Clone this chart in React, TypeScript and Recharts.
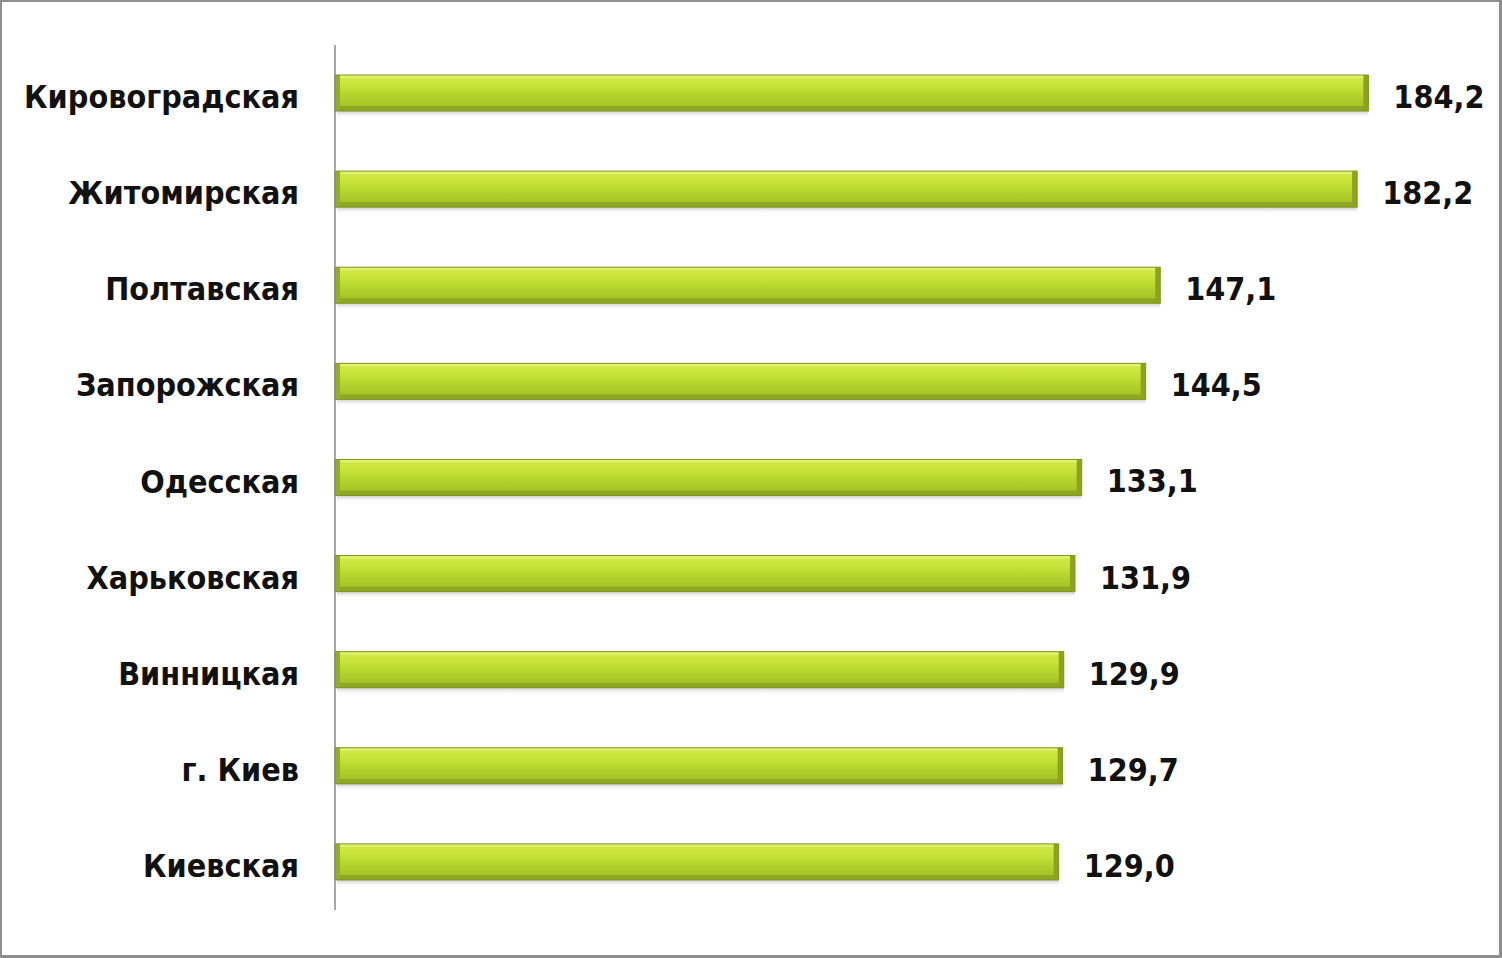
import { Bar, BarChart, LabelList, XAxis, YAxis } from "recharts";

const regions = [
  "Кировоградская",
  "Житомирская",
  "Полтавская",
  "Запорожская",
  "Одесская",
  "Харьковская",
  "Винницкая",
  "г. Киев",
  "Киевская",
];
const values = [184.2, 182.2, 147.1, 144.5, 133.1, 131.9, 129.9, 129.7, 129.0];

const data = regions.map((name, i) => ({ name, value: values[i] }));

const font = "'DejaVu Sans Condensed', 'DejaVu Sans', sans-serif";

function GlossyBar(props: any) {
  const { x, y, width, height } = props;
  if (!width || width <= 0) return null;
  return (
    <g>
      <rect x={x + 2} y={y + height} width={width - 2} height={7} fill="url(#shadowGrad)" />
      <rect x={x} y={y} width={width} height={height} fill="url(#barGrad)" />
      <rect x={x} y={y} width={width} height={3} fill="#e4f27a" opacity={0.8} />
      <rect x={x} y={y + height - 5} width={width} height={5} fill="#8fa823" />
      <rect x={x} y={y} width={5} height={height} fill="#94ad25" />
      <rect x={x + width - 5} y={y} width={5} height={height} fill="#8ba322" />
      <rect x={x} y={y} width={width} height={height} fill="none" stroke="#7f9520" strokeWidth={1} />
    </g>
  );
}

function RegionTick(props: any) {
  const { x, y, payload } = props;
  return (
    <text
      x={x}
      y={y}
      dy={15}
      textAnchor="end"
      fontFamily={font}
      fontStretch="condensed"
      fontWeight="bold"
      fontSize={32}
      fill="#111"
    >
      {payload.value}
    </text>
  );
}

function ValueLabel(props: any) {
  const { x, y, width, height, value } = props;
  return (
    <text
      x={x + width + 25}
      y={y + height / 2}
      dy={15}
      fontFamily={font}
      fontStretch="condensed"
      fontWeight="bold"
      fontSize={32}
      fill="#111"
    >
      {Number(value).toFixed(1).replace(".", ",")}
    </text>
  );
}

export default function App() {
  return (
    <div
      style={{
        position: "absolute",
        left: 0,
        top: 0,
        width: 1502,
        height: 958,
        background: "#fff",
        border: "3px solid #8e8e8e",
        borderTopWidth: 2,
        borderLeftWidth: 2,
        boxSizing: "border-box",
      }}
    >
      <BarChart
        width={1497}
        height={953}
        data={data}
        layout="vertical"
        margin={{ top: 43, right: 42, bottom: 45, left: 0 }}
        barCategoryGap={0}
      >
        <defs>
          <linearGradient id="barGrad" x1="0" y1="0" x2="0" y2="1">
            <stop offset="0%" stopColor="#d2ea48" />
            <stop offset="30%" stopColor="#c8e33a" />
            <stop offset="60%" stopColor="#b3d12c" />
            <stop offset="100%" stopColor="#a2bd26" />
          </linearGradient>
          <linearGradient id="shadowGrad" x1="0" y1="0" x2="0" y2="1">
            <stop offset="0%" stopColor="#c8c8c8" />
            <stop offset="100%" stopColor="#ffffff" stopOpacity={0} />
          </linearGradient>
        </defs>
        <XAxis type="number" domain={[0, 200]} hide />
        <YAxis
          type="category"
          dataKey="name"
          width={333}
          axisLine={{ stroke: "#8a8a8a", strokeWidth: 1.5 }}
          tickLine={false}
          tickMargin={30}
          tick={<RegionTick />}
        />
        <Bar
          dataKey="value"
          barSize={36}
          shape={<GlossyBar />}
          isAnimationActive={false}
        >
          <LabelList dataKey="value" content={<ValueLabel />} />
        </Bar>
      </BarChart>
    </div>
  );
}
